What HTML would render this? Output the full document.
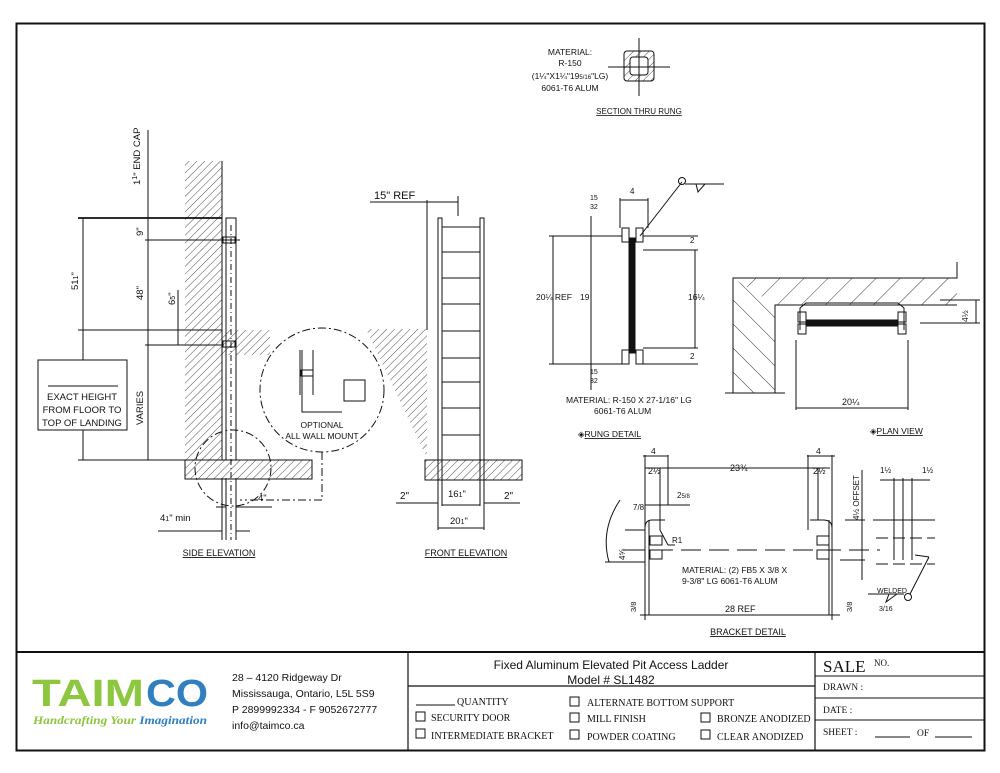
<!DOCTYPE html>
<html><head><meta charset="utf-8"><style>
html,body{margin:0;padding:0;background:#fff;}
svg{display:block;font-family:"Liberation Sans",sans-serif;}
.t{font-family:"Liberation Sans",sans-serif;fill:#111;}
.n{font-family:"Liberation Sans Narrow","Liberation Sans",sans-serif;}
.s{font-family:"Liberation Serif",serif;}
</style></head><body>
<svg width="1000" height="773" viewBox="0 0 1000 773" xmlns="http://www.w3.org/2000/svg">
<defs>
<pattern id="h" width="5.5" height="5.5" patternUnits="userSpaceOnUse" patternTransform="rotate(45)">
<line x1="0" y1="0" x2="0" y2="5.5" stroke="#222" stroke-width="0.8"/></pattern>
<pattern id="h2" width="17" height="17" patternUnits="userSpaceOnUse" patternTransform="rotate(45)">
<line x1="0" y1="0" x2="0" y2="17" stroke="#222" stroke-width="0.9"/></pattern>
<pattern id="h3" width="17" height="17" patternUnits="userSpaceOnUse" patternTransform="rotate(-45)">
<line x1="0" y1="0" x2="0" y2="17" stroke="#222" stroke-width="0.9"/></pattern>
</defs>
<rect width="1000" height="773" fill="#fff"/>
<rect x="16.5" y="23.5" width="968" height="727" fill="none" stroke="#111" stroke-width="2"/>
<line x1="16" y1="652" x2="985" y2="652" stroke="#111" stroke-width="2"/>
<line x1="408" y1="652" x2="408" y2="750" stroke="#111" stroke-width="1.2"/>
<line x1="815" y1="652" x2="815" y2="750" stroke="#111" stroke-width="1.2"/>
<line x1="408" y1="686" x2="815" y2="686" stroke="#111" stroke-width="1.2"/>
<line x1="815" y1="676" x2="985" y2="676" stroke="#111" stroke-width="1"/>
<line x1="815" y1="698" x2="985" y2="698" stroke="#111" stroke-width="1"/>
<line x1="815" y1="720" x2="985" y2="720" stroke="#111" stroke-width="1"/>

<text x="32" y="706" font-size="38" font-weight="bold" fill="#8dc63f" textLength="112" lengthAdjust="spacingAndGlyphs" class="n">TAIM</text>
<text x="146" y="706" font-size="38" font-weight="bold" fill="#2f7fc1" textLength="62" lengthAdjust="spacingAndGlyphs" class="n">CO</text>
<text x="33" y="724" font-size="11.5" font-style="italic" font-weight="bold" fill="#8dc63f" textLength="174" lengthAdjust="spacingAndGlyphs" class="s">Handcrafting Your <tspan fill="#2f7fc1">Imagination</tspan></text>
<g class="t" font-size="10.5">
<text x="232" y="681">28 – 4120 Ridgeway Dr</text>
<text x="232" y="697">Mississauga, Ontario, L5L 5S9</text>
<text x="232" y="713">P 2899992334 - F 9052672777</text>
<text x="232" y="729">info@taimco.ca</text>
</g>
<text x="611" y="669" font-size="12" text-anchor="middle" class="t">Fixed Aluminum Elevated Pit Access Ladder</text>
<text x="611" y="684" font-size="12" text-anchor="middle" class="t">Model # SL1482</text>
<g class="s" font-size="10" fill="#111">
<line x1="416" y1="705" x2="455" y2="705" stroke="#111"/>
<text x="457" y="705">QUANTITY</text>
<rect x="416" y="712" width="9" height="9" fill="none" stroke="#111"/><text x="431" y="721">SECURITY DOOR</text>
<rect x="416" y="729" width="9" height="9" fill="none" stroke="#111"/><text x="431" y="739">INTERMEDIATE BRACKET</text>
<rect x="570" y="697" width="9" height="9" fill="none" stroke="#111"/><text x="587" y="706">ALTERNATE BOTTOM SUPPORT</text>
<rect x="570" y="713" width="9" height="9" fill="none" stroke="#111"/><text x="587" y="722">MILL FINISH</text>
<rect x="570" y="730" width="9" height="9" fill="none" stroke="#111"/><text x="587" y="740">POWDER COATING</text>
<rect x="701" y="713" width="9" height="9" fill="none" stroke="#111"/><text x="717" y="722">BRONZE ANODIZED</text>
<rect x="701" y="730" width="9" height="9" fill="none" stroke="#111"/><text x="717" y="740">CLEAR ANODIZED</text>
<text x="823" y="672" font-size="17">SALE</text><text x="874" y="666" font-size="9">NO.</text>
<text x="823" y="690" font-size="9.5">DRAWN :</text>
<text x="823" y="713" font-size="9.5">DATE :</text>
<text x="823" y="735" font-size="9.5">SHEET :</text>
<line x1="875" y1="737" x2="910" y2="737" stroke="#111"/><text x="917" y="736" font-size="9.5">OF</text>
<line x1="935" y1="737" x2="972" y2="737" stroke="#111"/>
</g>

<g stroke="#111" fill="none" stroke-width="1">
<rect x="185" y="161" width="37" height="299" fill="url(#h)" stroke="none"/>
<line x1="222" y1="161" x2="222" y2="460"/>
<rect x="222" y="330" width="48" height="25" fill="url(#h)" stroke="none"/>
<rect x="185" y="460" width="127" height="19" fill="url(#h)"/>
<rect x="226" y="218" width="10" height="242"/>
<line x1="231" y1="225" x2="231" y2="540" stroke-dasharray="6,3,1,3"/>
<line x1="226" y1="478" x2="226" y2="540"/><line x1="236" y1="478" x2="236" y2="540"/>
<rect x="223" y="237" width="12" height="6"/><rect x="223" y="341" width="12" height="6"/>
<line x1="78" y1="218" x2="222" y2="218" stroke-width="1.8"/>
<line x1="145" y1="240" x2="240" y2="240"/>
<line x1="78" y1="330" x2="222" y2="330"/>
<line x1="145" y1="345" x2="222" y2="345"/>
<line x1="78" y1="460" x2="185" y2="460"/>
<line x1="83" y1="218" x2="83" y2="460"/>
<line x1="148" y1="130" x2="148" y2="460"/>
<line x1="178" y1="290" x2="178" y2="345"/>
<rect x="38" y="360" width="89" height="70" fill="#fff"/>
<line x1="48" y1="386" x2="118" y2="386"/>
<circle cx="322" cy="390" r="62" stroke-dasharray="8,3,2,3"/>
<circle cx="233" cy="468" r="38" stroke-dasharray="8,3,2,3"/>
<polyline points="322,452 322,500 240,500" stroke-dasharray="8,3,2,3"/>
<line x1="300" y1="350" x2="300" y2="395"/><line x1="313" y1="350" x2="313" y2="395"/>
<rect x="301" y="370" width="12" height="6"/>
<polyline points="302,350 302,412 342,412"/>
<rect x="344" y="380" width="21" height="21"/>
<line x1="158" y1="531" x2="222" y2="531"/><line x1="236" y1="531" x2="250" y2="531"/>
<line x1="216" y1="507" x2="226" y2="507"/><line x1="236" y1="507" x2="272" y2="507"/>
<line x1="222" y1="478" x2="222" y2="540"/>

<polygon points="366,329 427,329 427,458" fill="url(#h)" stroke="none"/>
<line x1="427" y1="200" x2="427" y2="330"/>
<line x1="370" y1="202" x2="427" y2="202"/>
<line x1="427" y1="202" x2="458" y2="202"/><line x1="458" y1="196" x2="458" y2="216"/>
<rect x="438" y="218" width="4" height="262"/><rect x="480" y="218" width="4" height="262"/>
<line x1="442" y1="227" x2="480" y2="227"/>
<line x1="442" y1="252" x2="480" y2="252"/><line x1="442" y1="278" x2="480" y2="278"/>
<line x1="442" y1="304" x2="480" y2="304"/><line x1="442" y1="331" x2="480" y2="331"/>
<line x1="442" y1="358" x2="480" y2="358"/><line x1="442" y1="382" x2="480" y2="382"/>
<line x1="442" y1="408" x2="480" y2="408"/><line x1="442" y1="435" x2="480" y2="435"/>
<rect x="425" y="460" width="97" height="20" fill="url(#h)"/>
<line x1="438" y1="480" x2="438" y2="530"/><line x1="484" y1="480" x2="484" y2="530"/>
<line x1="442" y1="480" x2="442" y2="506"/><line x1="480" y1="480" x2="480" y2="506"/>
<line x1="396" y1="503" x2="438" y2="503"/><line x1="484" y1="503" x2="520" y2="503"/>
<line x1="442" y1="505" x2="480" y2="505"/>
<line x1="438" y1="528" x2="484" y2="528"/>

<rect x="624" y="51" width="30" height="30" rx="3" fill="url(#h)"/>
<rect x="630" y="57" width="18" height="18" rx="3" fill="#fff"/>
<line x1="639" y1="38" x2="639" y2="96"/><line x1="608" y1="67" x2="670" y2="67"/>

<rect x="622" y="228" width="7" height="14"/><rect x="636" y="228" width="7" height="14"/>
<rect x="622" y="350" width="7" height="14"/><rect x="636" y="350" width="7" height="14"/>
<rect x="629" y="238" width="6" height="115" fill="#111"/>
<line x1="549" y1="236" x2="622" y2="236"/>
<line x1="549" y1="364" x2="622" y2="364"/>
<line x1="643" y1="236" x2="698" y2="236"/><line x1="643" y1="250" x2="698" y2="250"/>
<line x1="643" y1="348" x2="698" y2="348"/><line x1="643" y1="364" x2="698" y2="364"/>
<line x1="553" y1="236" x2="553" y2="364"/><line x1="591" y1="216" x2="591" y2="390"/>
<line x1="695" y1="250" x2="695" y2="348"/>
<line x1="620" y1="198" x2="620" y2="228"/><line x1="648" y1="198" x2="648" y2="228"/>
<line x1="620" y1="200" x2="648" y2="200"/>
<line x1="640" y1="236" x2="682" y2="182"/><circle cx="682" cy="181" r="3.5"/>
<line x1="685" y1="184" x2="724" y2="184"/><polyline points="696,184 698,192 705,184"/>

<polygon points="733,278 775,305 775,393 733,393" fill="url(#h3)" stroke="none"/>
<polygon points="733,278 957,278 957,305 775,305" fill="url(#h2)" stroke="none"/>
<polyline points="957,262 957,278 733,278 733,393"/>
<polyline points="775,393 775,305 957,305"/>
<line x1="725" y1="393" x2="785" y2="393"/>
<polyline points="800,330 800,308 806,303 898,303 904,308 904,330"/>
<rect x="798" y="312" width="8" height="10"/><rect x="898" y="312" width="8" height="10"/>
<rect x="798" y="324" width="8" height="10"/><rect x="898" y="324" width="8" height="10"/>
<rect x="806" y="320" width="92" height="6" fill="#111"/>
<line x1="796" y1="340" x2="796" y2="410"/><line x1="908" y1="340" x2="908" y2="410"/>
<line x1="796" y1="408" x2="908" y2="408"/>
<line x1="940" y1="300" x2="980" y2="300"/><line x1="920" y1="323" x2="980" y2="323"/>
<line x1="976" y1="300" x2="976" y2="323"/>

<line x1="643" y1="456" x2="668" y2="456"/><line x1="807" y1="456" x2="835" y2="456"/>
<line x1="645" y1="468" x2="830" y2="468"/>
<line x1="645" y1="505" x2="690" y2="505"/>
<line x1="645" y1="455" x2="645" y2="620"/><line x1="668" y1="455" x2="668" y2="505"/>
<line x1="832" y1="455" x2="832" y2="620"/><line x1="808" y1="455" x2="808" y2="530"/>
<line x1="660" y1="468" x2="660" y2="530"/><line x1="818" y1="468" x2="818" y2="520"/>
<path d="M665,520 L652,520 Q645,520 645,528 L645,615"/>
<path d="M810,520 L823,520 Q832,520 832,528 L832,615"/>
<line x1="649" y1="520" x2="649" y2="615"/><line x1="829" y1="520" x2="829" y2="615"/>
<rect x="650" y="536" width="12" height="9"/><rect x="650" y="550" width="12" height="9"/>
<rect x="817" y="536" width="12" height="9"/><rect x="817" y="550" width="12" height="9"/>
<line x1="625" y1="550" x2="880" y2="550" stroke-dasharray="20,8"/>
<line x1="640" y1="615" x2="840" y2="615"/>
<path d="M620,500 Q600,530 609,562"/>
<line x1="605" y1="562" x2="645" y2="562"/><line x1="625" y1="530" x2="645" y2="530"/>
<line x1="660" y1="530" x2="668" y2="545"/><line x1="668" y1="545" x2="675" y2="545"/>
<line x1="845" y1="520" x2="865" y2="520"/><line x1="840" y1="560" x2="865" y2="560"/>
<line x1="862" y1="470" x2="862" y2="580"/>
<line x1="880" y1="480" x2="930" y2="480"/>
<line x1="894" y1="478" x2="894" y2="560"/><line x1="903" y1="478" x2="903" y2="560"/><line x1="912" y1="478" x2="912" y2="560"/>
<line x1="873" y1="520" x2="935" y2="520"/>
<line x1="876" y1="538" x2="935" y2="538" stroke-dasharray="12,5"/>
<line x1="876" y1="564" x2="935" y2="564" stroke-dasharray="12,5"/>
<line x1="915" y1="555" x2="929" y2="557"/><line x1="929" y1="557" x2="910" y2="594"/>
<circle cx="908" cy="597" r="3.5"/><line x1="868" y1="594" x2="904" y2="594"/>
<polyline points="889,594 886,602 897,594"/>
</g>

<g class="t n" font-size="9.5">
<text transform="translate(140,185) rotate(-90)">1<tspan font-size="7" dy="-3">1</tspan><tspan dy="3">"</tspan> END CAP</text>
<text transform="translate(143,236) rotate(-90)">9"</text>
<text transform="translate(143,300) rotate(-90)">48"</text>
<text transform="translate(175,305) rotate(-90)">6<tspan font-size="7">5</tspan>"</text>
<text transform="translate(78,290) rotate(-90)">51<tspan font-size="7">1</tspan>"</text>
<text transform="translate(143,425) rotate(-90)">VARIES</text>
<text x="82" y="400" text-anchor="middle">EXACT HEIGHT</text>
<text x="82" y="413" text-anchor="middle">FROM FLOOR TO</text>
<text x="82" y="426" text-anchor="middle">TOP OF LANDING</text>
<text x="322" y="428" text-anchor="middle" font-size="8.5">OPTIONAL</text>
<text x="322" y="439" text-anchor="middle" font-size="8.5">ALL WALL MOUNT</text>
<text x="258" y="501">4"</text>
<text x="160" y="521">4<tspan font-size="7">1</tspan>"  min</text>
<text x="219" y="556" text-anchor="middle" font-size="9" text-decoration="underline">SIDE ELEVATION</text>
<text x="374" y="199" font-size="11">15"  REF</text>
<text x="400" y="499" font-size="10">2"</text>
<text x="504" y="499" font-size="10">2"</text>
<text x="448" y="497">16<tspan font-size="7">1</tspan>"</text>
<text x="450" y="524">20<tspan font-size="7">1</tspan>"</text>
<text x="466" y="556" text-anchor="middle" font-size="9" text-decoration="underline">FRONT ELEVATION</text>
<text x="570" y="55" text-anchor="middle" font-size="8.5">MATERIAL:</text>
<text x="570" y="66" text-anchor="middle" font-size="8.5">R-150</text>
<text x="570" y="79" text-anchor="middle" font-size="8.5">(1¼"X1¼"19<tspan font-size="6">5/16</tspan>"LG)</text>
<text x="570" y="91" text-anchor="middle" font-size="8.5">6061-T6 ALUM</text>
<text x="639" y="114" text-anchor="middle" font-size="8" text-decoration="underline">SECTION THRU RUNG</text>
<text x="630" y="194" font-size="8">4</text>
<text x="590" y="200" font-size="7">15</text><text x="590" y="209" font-size="7">32</text>
<text x="590" y="374" font-size="7">15</text><text x="590" y="383" font-size="7">32</text>
<text x="536" y="300" font-size="8.5">20¼  REF</text>
<text x="580" y="300" font-size="8.5">19</text>
<text x="688" y="300" font-size="8.5">16¼</text>
<text x="690" y="243" font-size="8">2</text><text x="690" y="359" font-size="8">2</text>
<text x="566" y="403" font-size="8.5">MATERIAL: R-150 X 27-1/16" LG</text>
<text x="594" y="414" font-size="8.5">6061-T6 ALUM</text>
<text x="578" y="437" font-size="8.5">◈<tspan text-decoration="underline">RUNG DETAIL</tspan></text>
<text x="870" y="434" font-size="8.5">◈<tspan text-decoration="underline">PLAN VIEW</tspan></text>
<text x="842" y="405" font-size="9">20¼</text>
<text transform="translate(968,322) rotate(-90)" font-size="8.5">4½</text>
<text x="651" y="454" font-size="8.5">4</text><text x="816" y="454" font-size="8.5">4</text>
<text x="648" y="474" font-size="9">2½</text><text x="813" y="474" font-size="9">2½</text>
<text x="730" y="471" font-size="9">23¾</text>
<text x="677" y="498" font-size="8">2<tspan font-size="6">5/8</tspan></text>
<text x="633" y="510" font-size="8">7/8</text>
<text x="672" y="543" font-size="8">R1</text>
<text transform="translate(625,560) rotate(-90)" font-size="8">4⅝</text>
<text x="682" y="573" font-size="8.5">MATERIAL: (2) FB5 X 3/8 X</text>
<text x="682" y="584" font-size="8.5">9-3/8" LG 6061-T6 ALUM</text>
<text x="725" y="612" font-size="9">28 REF</text>
<text transform="translate(636,612) rotate(-90)" font-size="7.5">3/8</text>
<text transform="translate(852,612) rotate(-90)" font-size="7.5">3/8</text>
<text transform="translate(859,520) rotate(-90)" font-size="8">4½ OFFSET</text>
<text x="880" y="473" font-size="8">1½</text><text x="922" y="473" font-size="8">1½</text>
<text x="877" y="593" font-size="7">WELDED</text>
<text x="879" y="611" font-size="7">3/16</text>
<text x="748" y="635" text-anchor="middle" font-size="9" text-decoration="underline">BRACKET DETAIL</text>
</g>
</svg>
</body></html>
